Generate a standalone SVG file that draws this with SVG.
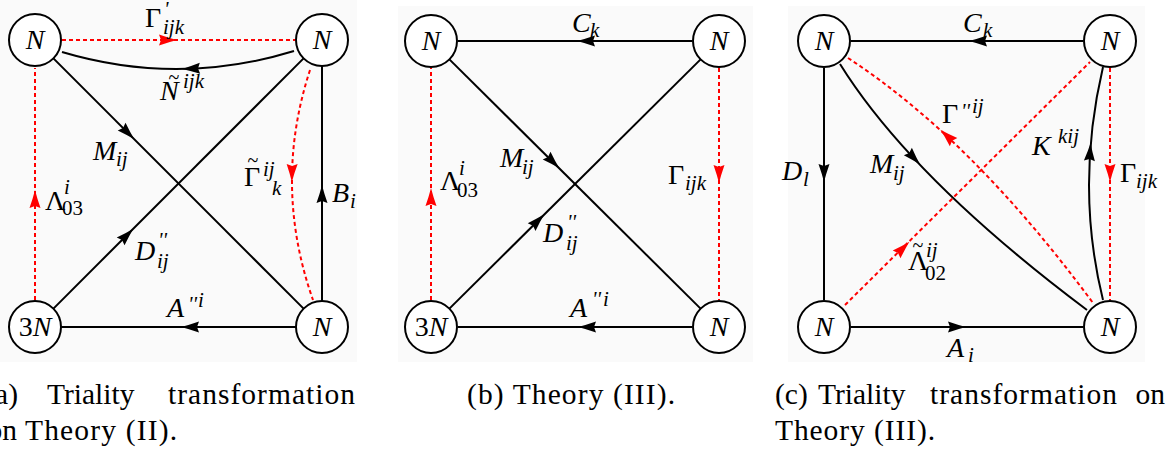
<svg xmlns="http://www.w3.org/2000/svg" width="1175" height="451" viewBox="0 0 1175 451">
<style>
.bg{fill:#fafafa}
.nd{fill:#fff;stroke:#000;stroke-width:2}
.k{fill:none;stroke:#000;stroke-width:2}
.r{fill:none;stroke:#f00;stroke-width:2;stroke-dasharray:4 3}
.ak{fill:#000}
.ar{fill:#f00}
</style>
<defs>
<path id="ah" d="M9,0 Q1,-2 -9,-5.5 L-7,0 L-9,5.5 Q1,2 9,0 Z"/>
</defs>
<rect class="bg" x="0" y="0" width="357" height="362"/>
<rect class="bg" x="398" y="6" width="355" height="356"/>
<rect class="bg" x="788" y="6" width="357" height="356"/>

<g id="connectors">
<path class="k" d="M294,51 Q178,86.5 62,52"/>
<line class="k" x1="53.4" y1="58.4" x2="303.6" y2="308.6"/>
<line class="k" x1="53.4" y1="308.6" x2="303.6" y2="58.4"/>
<line class="k" x1="296" y1="327" x2="61" y2="327"/>
<line class="k" x1="322" y1="301" x2="322" y2="66"/>
<line class="k" x1="692" y1="41" x2="458" y2="41"/>
<line class="k" x1="449.4" y1="59.4" x2="700.6" y2="308.6"/>
<line class="k" x1="449.4" y1="308.6" x2="700.6" y2="59.4"/>
<line class="k" x1="692" y1="327" x2="458" y2="327"/>
<line class="k" x1="1083" y1="41" x2="851" y2="41"/>
<line class="k" x1="824" y1="68" x2="824" y2="300"/>
<path class="k" d="M840,64 Q911,178 1087,310"/>
<line class="k" x1="851" y1="327" x2="1083" y2="327"/>
<path class="k" d="M1103,300 Q1075,186.5 1103,67"/>
<line class="r" x1="62" y1="40" x2="295" y2="40"/>
<path class="r" d="M310,70 Q272.5,185 313,300"/>
<line class="r" x1="35" y1="300" x2="35" y2="68"/>
<line class="r" x1="431" y1="300" x2="431" y2="68"/>
<line class="r" x1="719" y1="68" x2="719" y2="300"/>
<line class="r" x1="1110" y1="68" x2="1110" y2="300"/>
<path class="r" d="M848,58 Q972,139 1093,303"/>
<line class="r" x1="845" y1="305" x2="1090" y2="62"/>
<use href="#ah" class="ak" transform="translate(191,68.7) rotate(177.8)"/>
<use href="#ah" class="ak" transform="translate(128,133) rotate(45)"/>
<use href="#ah" class="ak" transform="translate(127,235) rotate(-45)"/>
<use href="#ah" class="ak" transform="translate(190,327) rotate(180)"/>
<use href="#ah" class="ak" transform="translate(322,194) rotate(-90)"/>
<use href="#ah" class="ak" transform="translate(586,41) rotate(180)"/>
<use href="#ah" class="ak" transform="translate(553,162) rotate(44.8)"/>
<use href="#ah" class="ak" transform="translate(538,220.7) rotate(-44.8)"/>
<use href="#ah" class="ak" transform="translate(587,327) rotate(180)"/>
<use href="#ah" class="ak" transform="translate(978,41) rotate(180)"/>
<use href="#ah" class="ak" transform="translate(824,173) rotate(90)"/>
<use href="#ah" class="ak" transform="translate(914,158) rotate(47)"/>
<use href="#ah" class="ak" transform="translate(957,327)"/>
<use href="#ah" class="ak" transform="translate(1090,152) rotate(-86.2)"/>
<use href="#ah" class="ar" transform="translate(168,40)"/>
<use href="#ah" class="ar" transform="translate(292,173) rotate(91)"/>
<use href="#ah" class="ar" transform="translate(35,199) rotate(-90)"/>
<use href="#ah" class="ar" transform="translate(431,197) rotate(-90)"/>
<use href="#ah" class="ar" transform="translate(719,174) rotate(90)"/>
<use href="#ah" class="ar" transform="translate(1110,173) rotate(90)"/>
<use href="#ah" class="ar" transform="translate(947,136) rotate(222.9)"/>
<use href="#ah" class="ar" transform="translate(903,248) rotate(-44.8)"/>
</g>

<g id="nodes">
<g id="a-tl"><circle class="nd" cx="35" cy="40" r="26"/><text font-family="Liberation Serif" font-size="28" font-style="italic" text-anchor="middle" x="35" y="49">N</text></g>
<g id="a-tr"><circle class="nd" cx="322" cy="40" r="26"/><text font-family="Liberation Serif" font-size="28" font-style="italic" text-anchor="middle" x="322" y="49">N</text></g>
<g id="a-bl"><circle class="nd" cx="35" cy="327" r="26"/><text font-family="Liberation Serif" font-size="28" text-anchor="middle" x="35" y="336">3<tspan font-style="italic">N</tspan></text></g>
<g id="a-br"><circle class="nd" cx="322" cy="327" r="26"/><text font-family="Liberation Serif" font-size="28" font-style="italic" text-anchor="middle" x="322" y="336">N</text></g>
<g id="b-tl"><circle class="nd" cx="431" cy="41" r="26"/><text font-family="Liberation Serif" font-size="28" font-style="italic" text-anchor="middle" x="431" y="50">N</text></g>
<g id="b-tr"><circle class="nd" cx="719" cy="41" r="26"/><text font-family="Liberation Serif" font-size="28" font-style="italic" text-anchor="middle" x="719" y="50">N</text></g>
<g id="b-bl"><circle class="nd" cx="431" cy="327" r="26"/><text font-family="Liberation Serif" font-size="28" text-anchor="middle" x="431" y="336">3<tspan font-style="italic">N</tspan></text></g>
<g id="b-br"><circle class="nd" cx="719" cy="327" r="26"/><text font-family="Liberation Serif" font-size="28" font-style="italic" text-anchor="middle" x="719" y="336">N</text></g>
<g id="c-tl"><circle class="nd" cx="824" cy="41" r="26"/><text font-family="Liberation Serif" font-size="28" font-style="italic" text-anchor="middle" x="824" y="50">N</text></g>
<g id="c-tr"><circle class="nd" cx="1110" cy="41" r="26"/><text font-family="Liberation Serif" font-size="28" font-style="italic" text-anchor="middle" x="1110" y="50">N</text></g>
<g id="c-bl"><circle class="nd" cx="824" cy="327" r="26"/><text font-family="Liberation Serif" font-size="28" font-style="italic" text-anchor="middle" x="824" y="336">N</text></g>
<g id="c-br"><circle class="nd" cx="1110" cy="327" r="26"/><text font-family="Liberation Serif" font-size="28" font-style="italic" text-anchor="middle" x="1110" y="336">N</text></g>
</g>

<g id="labels">
<text font-family="Liberation Serif" font-size="28" x="145" y="27">Γ</text><text font-family="Liberation Serif" font-size="21" font-style="italic" x="164" y="16">'</text><text font-family="Liberation Serif" font-size="21" font-style="italic" x="163" y="34">ijk</text>
<text font-family="Liberation Serif" font-size="28" font-style="italic" x="160" y="100">N</text><text font-family="Liberation Serif" font-size="20" text-anchor="middle" x="174" y="84">~</text><text font-family="Liberation Serif" font-size="21" font-style="italic" x="183" y="88">ijk</text>
<text font-family="Liberation Serif" font-size="28" font-style="italic" x="93" y="160">M</text><text font-family="Liberation Serif" font-size="21" font-style="italic" x="116" y="166">ij</text>
<text font-family="Liberation Serif" font-size="28" font-style="italic" x="135" y="260">D</text><text font-family="Liberation Serif" font-size="21" font-style="italic" x="158" y="247">''</text><text font-family="Liberation Serif" font-size="21" font-style="italic" x="157" y="268">ij</text>
<text font-family="Liberation Serif" font-size="28" font-style="italic" x="167" y="317">A</text><text font-family="Liberation Serif" font-size="21" font-style="italic" x="188" y="311">''</text><text font-family="Liberation Serif" font-size="21" font-style="italic" x="198" y="307">i</text>
<text font-family="Liberation Serif" font-size="28" font-style="italic" x="332" y="202">B</text><text font-family="Liberation Serif" font-size="21" font-style="italic" x="350" y="208">i</text>
<text font-family="Liberation Serif" font-size="28" x="244" y="186">Γ</text><text font-family="Liberation Serif" font-size="20" text-anchor="middle" x="253" y="167">~</text><text font-family="Liberation Serif" font-size="21" font-style="italic" x="263" y="176">ij</text><text font-family="Liberation Serif" font-size="21" font-style="italic" x="272" y="195">k</text>
<text font-family="Liberation Serif" font-size="28" x="45" y="210">Λ</text><text font-family="Liberation Serif" font-size="21" font-style="italic" x="64" y="194">i</text><text font-family="Liberation Serif" font-size="21" x="62" y="215">03</text>
<text font-family="Liberation Serif" font-size="28" font-style="italic" x="572" y="32">C</text><text font-family="Liberation Serif" font-size="21" font-style="italic" x="590" y="37">k</text>
<text font-family="Liberation Serif" font-size="28" font-style="italic" x="500" y="167">M</text><text font-family="Liberation Serif" font-size="21" font-style="italic" x="522" y="174">ij</text>
<text font-family="Liberation Serif" font-size="28" font-style="italic" x="543" y="242">D</text><text font-family="Liberation Serif" font-size="21" font-style="italic" x="567" y="229">''</text><text font-family="Liberation Serif" font-size="21" font-style="italic" x="566" y="250">ij</text>
<text font-family="Liberation Serif" font-size="28" font-style="italic" x="570" y="317">A</text><text font-family="Liberation Serif" font-size="21" font-style="italic" x="592" y="306">''</text><text font-family="Liberation Serif" font-size="21" font-style="italic" x="603" y="306">i</text>
<text font-family="Liberation Serif" font-size="28" x="440" y="190">Λ</text><text font-family="Liberation Serif" font-size="21" font-style="italic" x="459" y="175">i</text><text font-family="Liberation Serif" font-size="21" x="457" y="197">03</text>
<text font-family="Liberation Serif" font-size="28" x="668" y="184">Γ</text><text font-family="Liberation Serif" font-size="21" font-style="italic" x="685" y="190">ijk</text>
<text font-family="Liberation Serif" font-size="28" font-style="italic" x="963" y="32">C</text><text font-family="Liberation Serif" font-size="21" font-style="italic" x="983" y="37">k</text>
<text font-family="Liberation Serif" font-size="28" font-style="italic" x="782" y="180">D</text><text font-family="Liberation Serif" font-size="21" font-style="italic" x="803" y="186">l</text>
<text font-family="Liberation Serif" font-size="28" font-style="italic" x="870" y="173">M</text><text font-family="Liberation Serif" font-size="21" font-style="italic" x="893" y="180">ij</text>
<text font-family="Liberation Serif" font-size="28" font-style="italic" x="947" y="357">A</text><text font-family="Liberation Serif" font-size="21" font-style="italic" x="968" y="362">i</text>
<text font-family="Liberation Serif" font-size="28" font-style="italic" x="1032" y="155">K</text><text font-family="Liberation Serif" font-size="21" font-style="italic" x="1058" y="143">kij</text>
<text font-family="Liberation Serif" font-size="28" x="1120" y="182">Γ</text><text font-family="Liberation Serif" font-size="21" font-style="italic" x="1136" y="188">ijk</text>
<text font-family="Liberation Serif" font-size="28" x="942" y="123">Γ</text><text font-family="Liberation Serif" font-size="21" font-style="italic" x="961" y="118">''</text><text font-family="Liberation Serif" font-size="21" font-style="italic" x="972" y="113">ij</text>
<text font-family="Liberation Serif" font-size="28" x="908" y="270">Λ</text><text font-family="Liberation Serif" font-size="20" text-anchor="middle" x="918" y="252">~</text><text font-family="Liberation Serif" font-size="21" font-style="italic" x="926" y="257">ij</text><text font-family="Liberation Serif" font-size="21" x="925" y="280">02</text>
</g>

<g id="captions">
<text font-family="Liberation Serif" font-size="29.5" x="18" y="404" text-anchor="end">(a)</text>
<text font-family="Liberation Serif" font-size="29.5" x="47" y="404">Triality</text>
<text font-family="Liberation Serif" font-size="29.5" x="168" y="404" textLength="187">transformation</text>
<text font-family="Liberation Serif" font-size="29.5" x="17" y="440" text-anchor="end">on</text>
<text font-family="Liberation Serif" font-size="29.5" x="25" y="440" textLength="152">Theory (II).</text>
<text font-family="Liberation Serif" font-size="29.5" x="467" y="404" textLength="208">(b) Theory (III).</text>
<text font-family="Liberation Serif" font-size="29.5" x="775" y="404">(c)</text>
<text font-family="Liberation Serif" font-size="29.5" x="818" y="404">Triality</text>
<text font-family="Liberation Serif" font-size="29.5" x="930" y="404" textLength="187">transformation</text>
<text font-family="Liberation Serif" font-size="29.5" x="1165" y="404" text-anchor="end">on</text>
<text font-family="Liberation Serif" font-size="29.5" x="775" y="440" textLength="160">Theory (III).</text>
</g>
</svg>
